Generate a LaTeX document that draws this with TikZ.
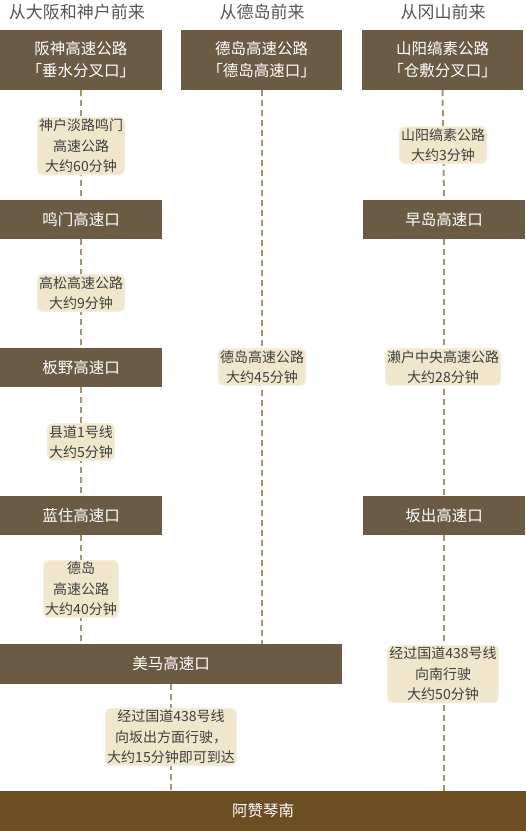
\documentclass[tikz,border=0pt]{standalone}
\usepackage{fontspec}
\newfontfamily\cjk{Noto Sans CJK SC}
\usetikzlibrary{positioning}
\definecolor{boxbrown}{HTML}{6B5B45}
\definecolor{goalbrown}{HTML}{6B4F22}
\definecolor{cream}{HTML}{EFE6CB}
\definecolor{dashtan}{HTML}{A8946F}
\definecolor{headgray}{HTML}{555555}
\tikzset{
  box/.style   = {fill=boxbrown, text=white, inner sep=0pt, outer sep=0pt,
                  align=center, anchor=north west, minimum height=39pt,
                  minimum width=162pt, font=\cjk\fontsize{15.5}{22}\selectfont},
  goal/.style  = {box, fill=goalbrown, minimum height=40pt, minimum width=526pt},
  way/.style   = {draw=dashtan, line width=2pt, dash pattern=on 6pt off 4pt},
  note/.style  = {fill=cream, draw=cream!70, line width=1.5pt, rounded corners=5pt,
                  inner sep=1.5pt, align=center, text=black!75,
                  font=\cjk\fontsize{14}{20.5}\selectfont},
  head/.style  = {text=headgray, font=\cjk\fontsize{17}{20}\selectfont},
}

\begin{document}
\begin{tikzpicture}[x=1pt, y=-1pt]
  \useasboundingbox (0,0) rectangle (526,831);

  % starting points
  \node[head] (fromosaka) at (77,12)  {从大阪和神户前来};
  \node[head] (fromtoku)  at (262,12) {从德岛前来};
  \node[head] (fromokay)  at (443,12) {从冈山前来};

  \node[box, minimum height=60pt] (hanshin) at (0,30)   {阪神高速公路\\「垂水分叉口」};
  \node[box, minimum height=60pt, minimum width=161pt] (tokuic) at (181,30)
    {德岛高速公路\\「德岛高速口」};
  \node[box, minimum height=60pt, minimum width=161pt] (sanyo) at (362,30)
    {山阳缟素公路\\「仓敷分叉口」};

  % exits
  \node[box] (naruto)   at (0,200) {鸣门高速口};
  \node[box] (itano)    at (0,348) {板野高速口};
  \node[box] (aizumi)   at (0,496) {蓝住高速口};
  \node[box] (hayashima) at (363,200) {早岛高速口};
  \node[box] (sakaide)   at (363,496) {坂出高速口};
  \node[box, minimum height=40pt, minimum width=342pt] (mima) at (0,644) {美马高速口};
  \node[goal] (kotonami) at (0,791) {阿赞琴南};

  % dashed roads
  \draw[way] (hanshin.south) -- (naruto.north);
  \draw[way] (naruto.south) -- (itano.north);
  \draw[way] (itano.south) -- (aizumi.north);
  \draw[way] (aizumi.south) -- (aizumi.south |- mima.north);
  \draw[way] (tokuic.south) -- (tokuic.south |- mima.north);
  \draw[way] (sanyo.south) -- (hayashima.north);
  \draw[way] (hayashima.south) -- (sakaide.north);
  \draw[way] (sakaide.south) -- (sakaide.south |- kotonami.north);
  \draw[way] (mima.south) -- (mima.south |- kotonami.north);

  % travel times
  \node[note] (kobeawaji) at (81,146)  {神户淡路鸣门\\高速公路\\大约60分钟};
  \node[note] (takamatsu) at (81,293)  {高松高速公路\\大约9分钟};
  \node[note] (kendo)     at (81,442)  {县道1号线\\大约5分钟};
  \node[note] (tokuexp)   at (81,589)  {德岛\\高速公路\\大约40分钟};
  \node[note] (tokumid)   at (262,367) {德岛高速公路\\大约45分钟};
  \node[note] (sanyotime) at (443,145) {山阳缟素公路\\大约3分钟};
  \node[note] (seto)      at (443,367) {濑户中央高速公路\\大约28分钟};
  \node[note] (r438south) at (443,674) {经过国道438号线\\向南行驶\\大约50分钟};
  \node[note] (r438mima)  at (171,737)
    {经过国道438号线\\向坂出方面行驶，\\大约15分钟即可到达};
\end{tikzpicture}
\end{document}
